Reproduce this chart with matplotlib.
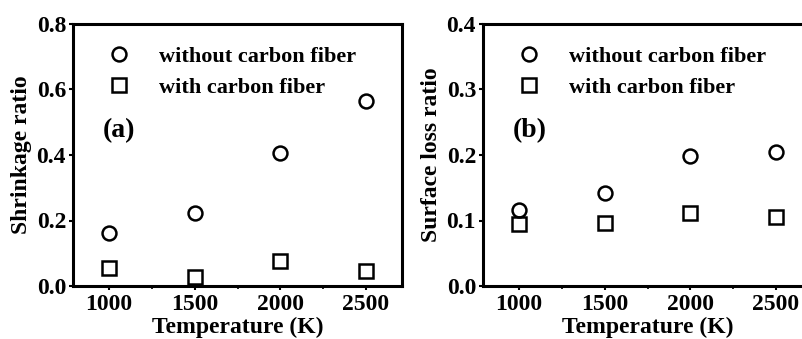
import numpy as np
import matplotlib.pyplot as plt
from matplotlib.ticker import MultipleLocator

plt.rcParams['font.family'] = 'Liberation Serif'
plt.rcParams['font.weight'] = 'bold'

temperature = [1000, 1500, 2000, 2500]
shrink_without = [0.162, 0.223, 0.406, 0.565]
shrink_with = [0.055, 0.028, 0.075, 0.046]
surface_without = [0.116, 0.142, 0.198, 0.204]
surface_with = [0.095, 0.096, 0.111, 0.105]

fig = plt.figure(figsize=(8.03, 3.39), dpi=100)
ax1 = fig.add_axes([73/803, 1-286/339, 329/803, 262/339])
ax2 = fig.add_axes([483/803, 1-286/339, 329/803, 262/339])

def style(ax, ymax, ystep, ylabel, tag, yfmt):
    ax.set_xlim(790, 2710)
    ax.set_ylim(0, ymax)
    ax.xaxis.set_major_locator(MultipleLocator(500))
    ax.xaxis.set_minor_locator(MultipleLocator(250))
    ax.yaxis.set_major_locator(MultipleLocator(ystep))
    ax.tick_params(which='major', length=3, width=1.5, labelsize=17, direction='out')
    ax.tick_params(which='minor', length=2, width=1.2)
    ax.tick_params(axis='y', pad=2)
    ax.tick_params(axis='x', pad=3)
    ax.yaxis.set_major_formatter(plt.FormatStrFormatter(yfmt))
    for s in ax.spines.values():
        s.set_linewidth(2.2)
    ax.set_xlabel('Temperature (K)', fontsize=17, fontweight='bold', labelpad=1)
    ax.set_ylabel(ylabel, fontsize=17, fontweight='bold', labelpad=3)
    ax.text(0.09, 0.57, tag, transform=ax.transAxes, fontsize=20, fontweight='bold')
    ax.legend(loc='upper left', bbox_to_anchor=(0.06, 0.95), frameon=False,
              fontsize=16, handletextpad=1.0, labelspacing=0.5, borderaxespad=0,
              handlelength=1.6)

ax1.plot(temperature, shrink_without, 'o', ms=10, mfc='none', mec='black', mew=1.8,
         label='without carbon fiber')
ax1.plot(temperature, shrink_with, 's', ms=10, mfc='none', mec='black', mew=1.8,
         label='with carbon fiber')
style(ax1, 0.8, 0.2, 'Shrinkage ratio', '(a)', '%.1f')

ax2.plot(temperature, surface_without, 'o', ms=10, mfc='none', mec='black', mew=1.8,
         label='without carbon fiber')
ax2.plot(temperature, surface_with, 's', ms=10, mfc='none', mec='black', mew=1.8,
         label='with carbon fiber')
style(ax2, 0.4, 0.1, 'Surface loss ratio', '(b)', '%.1f')

fig.savefig('out.png', dpi=100)
